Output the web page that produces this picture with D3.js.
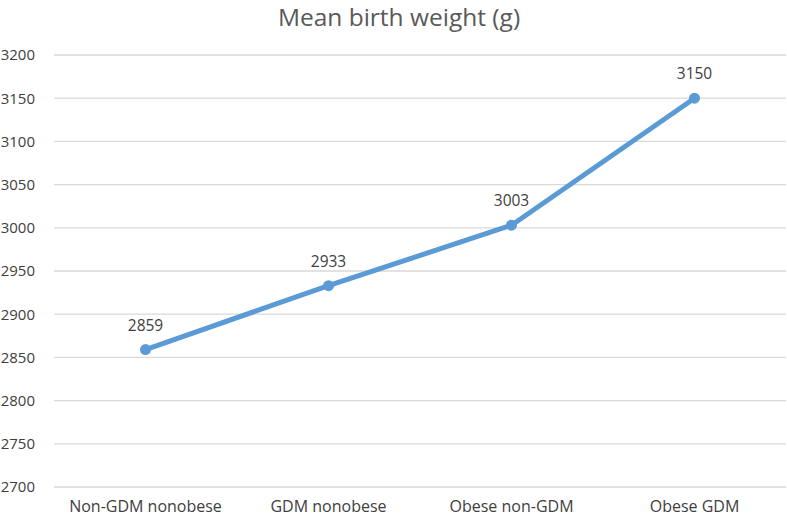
<!DOCTYPE html>
<html>
<head>
<meta charset="utf-8">
<script src="https://cdn.jsdelivr.net/npm/d3@7"></script>
<style>
  body { margin: 0; background: #fff; }
  text { font-family: "Open Sans", "Liberation Sans", sans-serif; fill: #404040; }
  .grid line { stroke: #d9d9d9; stroke-width: 1.3; }
  .domain { display: none; }
</style>
</head>
<body>
<div id="chart"></div>
<script>
const categories = ['Non-GDM nonobese', 'GDM nonobese', 'Obese non-GDM', 'Obese GDM'];
const values = [2859, 2933, 3003, 3150];
const yTicks = [2700, 2750, 2800, 2850, 2900, 2950, 3000, 3050, 3100, 3150, 3200];
const title = 'Mean birth weight (g)';

const W = 787, H = 516;
const margin = {top: 55, right: 1, bottom: 29, left: 54};
const width = W - margin.left - margin.right;
const height = H - margin.top - margin.bottom;

const svg = d3.select('#chart').append('svg')
    .attr('width', W)
    .attr('height', H);

svg.append('text')
    .attr('x', 399)
    .attr('y', 26)
    .attr('text-anchor', 'middle')
    .style('font-size', '24.5px')
    .style('fill', '#595959')
    .text(title);

const g = svg.append('g')
    .attr('transform', `translate(${margin.left}, ${margin.top})`);

const x = d3.scaleBand().domain(categories).range([0, width]);
const y = d3.scaleLinear().domain([2700, 3200]).range([height, 0]);

// gridlines
g.append('g')
    .attr('class', 'grid')
    .selectAll('line')
    .data(yTicks)
    .enter()
    .append('line')
    .attr('x1', 0)
    .attr('x2', width)
    .attr('y1', d => y(d))
    .attr('y2', d => y(d));

const yAxis = g.append('g')
    .call(d3.axisLeft(y).tickValues(yTicks).tickFormat(d3.format('d')).tickSize(0).tickPadding(19));
yAxis.selectAll('text').style('font-size', '15px').style('fill', '#404040');

const xAxis = g.append('g')
    .attr('transform', `translate(0, ${height})`)
    .call(d3.axisBottom(x).tickSize(0).tickPadding(14));
xAxis.selectAll('text').style('font-size', '16px').style('fill', '#404040');

const line = d3.line()
    .x((d, i) => x(categories[i]) + x.bandwidth() / 2)
    .y(d => y(d));

g.append('path')
    .datum(values)
    .attr('fill', 'none')
    .attr('stroke', '#5b9bd5')
    .attr('stroke-width', 5)
    .attr('stroke-linejoin', 'round')
    .attr('d', line);

g.selectAll('.dot')
    .data(values)
    .enter()
    .append('circle')
    .attr('cx', (d, i) => x(categories[i]) + x.bandwidth() / 2)
    .attr('cy', d => y(d))
    .attr('r', 5.5)
    .attr('fill', '#5b9bd5');

g.selectAll('.label')
    .data(values)
    .enter()
    .append('text')
    .attr('x', (d, i) => x(categories[i]) + x.bandwidth() / 2)
    .attr('y', d => y(d) - 19)
    .attr('text-anchor', 'middle')
    .style('font-size', '15.5px')
    .text(d => d);
</script>
</body>
</html>
